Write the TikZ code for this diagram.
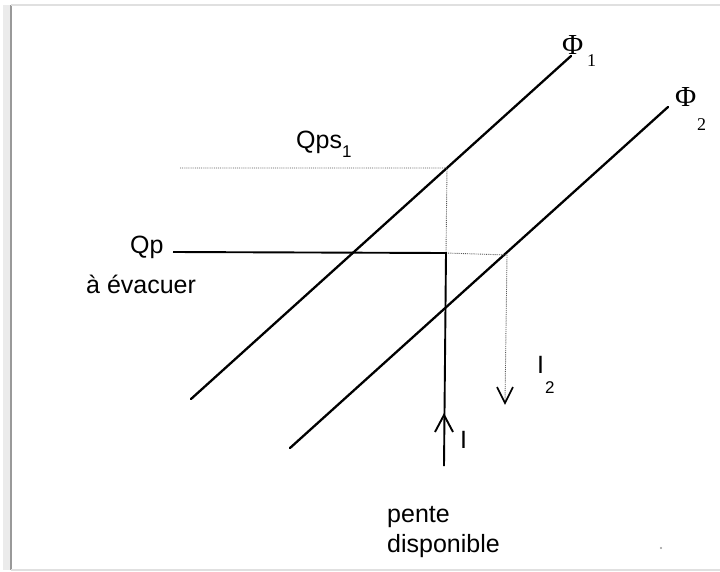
\documentclass[tikz,border=0pt]{standalone}
\usepackage{fontspec}
\setmainfont{Liberation Sans}
\newfontfamily\phifont{Liberation Serif}
\usetikzlibrary{arrows.meta}
\begin{document}
\begin{tikzpicture}[x=1pt,y=-1pt,
  philine/.style={line width=2.3pt, line cap=round},
  mainline/.style={line width=1.9pt},
  guide/.style={densely dotted, line width=0.9pt, black!65},
  lbl/.style={inner sep=0pt, font=\fontsize{25}{28}\selectfont},
  sublbl/.style={inner sep=0pt, font=\fontsize{17}{20}\selectfont},
  philbl/.style={inner sep=0pt, font=\phifont\fontsize{29}{31}\selectfont},
  phisub/.style={inner sep=0pt, font=\phifont\fontsize{18}{20}\selectfont}
]
\useasboundingbox (0,0) rectangle (720,571);
% frame
\fill[black!8] (3,5) rectangle (11,570);
\draw[black!40, line width=2pt] (11,5) -- (11,570);
\draw[black!12, line width=2pt] (11,5) -- (722,5);
\draw[black!12, line width=2pt] (11,570) -- (722,570);

% coordinates
\coordinate (a1) at (191,399);
\coordinate (b1) at (571,56);
\coordinate (a2) at (290,448);
\coordinate (b2) at (668,107);
\coordinate (qps) at (180,168);
\coordinate (p1) at (447,168);
\coordinate (qpst) at (173,252);
\coordinate (c) at (446,253);
\coordinate (d) at (444,466);
\coordinate (p2) at (507,255);
\coordinate (e) at (505,403);
\coordinate (t) at (444,415);

% lines Phi
\draw[philine] (a1) -- (b1);
\draw[philine] (a2) -- (b2);

% dotted guides
\draw[guide] (qps) -- (p1) -- (c);
\draw[guide] (c) -- (p2);
\draw[guide] (p2) -- (e);
\draw[line width=1.6pt] ([shift={(-8,-16)}]e) -- (e) -- ([shift={(8,-16)}]e);

% Qp line and slope arrow
\draw[mainline] (qpst) -- (c) -- (d);
\draw[line width=1.9pt] ([shift={(-9,17)}]t) -- (t) -- ([shift={(9,17)}]t);

% labels
\node[philbl, anchor=base west] (phi1) at (562,54) {Φ};
\node[phisub, anchor=base west] (s1) at (587,66) {1};
\node[philbl, anchor=base west] (phi2) at (675,106) {Φ};
\node[phisub, anchor=base west] (s2) at (697,130) {2};

\node[lbl, anchor=base west] (qpsl) at (296,148) {Qps};
\node[sublbl, anchor=base west] (qpss) at (342,157) {1};

\node[lbl, anchor=base west] (qpl) at (130,253) {Qp};
\node[lbl, anchor=base west] (evac) at (86,293) {à évacuer};

\node[lbl, anchor=base west] (il) at (460,448) {I};
\node[lbl, anchor=base west] (i2) at (537,373) {I};
\node[sublbl, anchor=base west] (i2s) at (545,393) {2};

\node[lbl, anchor=base west] (pente) at (387,522) {pente};
\node[lbl, anchor=base west] (dispo) at (387,552) {disponible};

\fill[black!40] (661,548) circle (1.2pt);
\end{tikzpicture}
\end{document}
